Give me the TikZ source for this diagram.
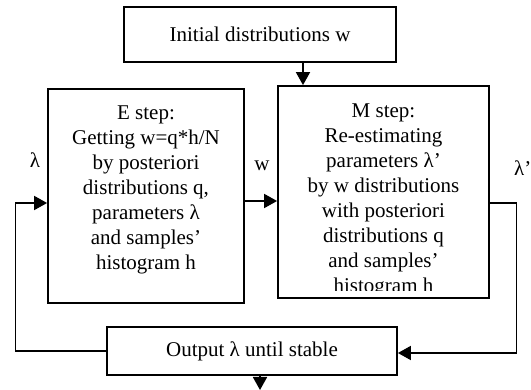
\documentclass[tikz,border=0pt]{standalone}
\usepackage{fontspec}
\setmainfont{Liberation Serif}
\usetikzlibrary{arrows.meta}
\begin{document}
\begin{tikzpicture}[x=1pt,y=-1pt,
  box/.style={draw,line width=1.8pt,rectangle,inner sep=0pt},
  arr/.style={line width=1.8pt,-{Triangle[length=13pt,width=14pt]}},
  ln/.style={line width=1.8pt},
  txt/.style={font=\fontsize{21}{25}\selectfont,align=center,inner sep=0pt}]
\useasboundingbox (0,0) rectangle (531,390);
% boxes
\node[box,txt,minimum width=272pt,minimum height=55pt] (init) at (260,34.5) {Initial distributions w};
\node[box,minimum width=196pt,minimum height=214pt] (E) at (146,196) {};
\node[box,minimum width=211pt,minimum height=212pt] (M) at (383.5,192) {};
\node[box,txt,minimum width=290pt,minimum height=48pt] (out) at (252,351) {Output λ until stable};
% box texts
\node[txt] (Etext) at (146,190) {E step:\\Getting w=q*h/N\\by posteriori\\distributions q,\\parameters λ\\and samples’\\histogram h};
\begin{scope}
\clip (279,87) rectangle (488,291);
\node[txt] (Mtext) at (383.5,200) {M step:\\Re-estimating\\parameters λ’\\by w distributions\\with posteriori\\distributions q\\and samples’\\histogram h};
\end{scope}
% labels
\node[txt] (lamE) at (35,160) {λ};
\node[txt] (wlab) at (262,166) {w};
\node[txt,anchor=west] (lamM) at (514,168) {λ’};
% connectors
\coordinate (lc) at (15.5,351);
\coordinate (rc) at (516.5,203);
\draw[arr] ([xshift=43pt]init.south) -- ([xshift=43pt]init.south |- M.north);
\draw[arr] (E.east |- 0,201) -- (M.west |- 0,201);
\draw[arr] (out.west) -- (lc) |- (E.west |- 0,203);
\draw[arr] (M.east |- rc) -- (rc) |- (out.east |- 0,353);
\coordinate (bot) at (260,390);
\draw[arr] (out.south -| bot) -- (bot);
\end{tikzpicture}
\end{document}
